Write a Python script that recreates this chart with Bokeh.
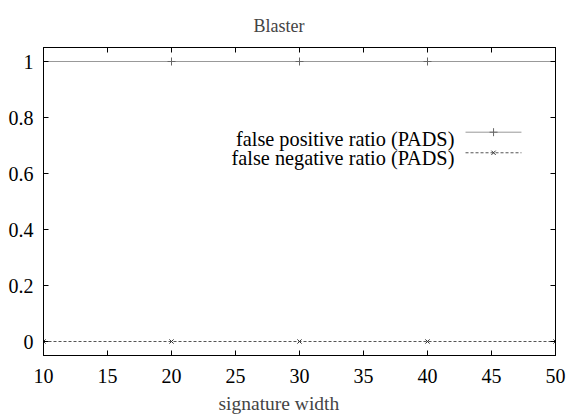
from bokeh.plotting import figure
from bokeh.models import (LinearAxis, Title, Label, Range1d, FixedTicker,
                          CustomJSTickFormatter)
from bokeh.embed import file_html
from bokeh.resources import INLINE

# signature widths tested and the ratios measured for each
widths = [10, 20, 30, 40, 50]
false_positive = [1, 1, 1, 1, 1]
false_negative = [0, 0, 0, 0, 0]

x_ticks = [10, 15, 20, 25, 30, 35, 40, 45, 50]
y_ticks = [0, 0.2, 0.4, 0.6, 0.8, 1]

series_names = ["false positive ratio (PADS)", "false negative ratio (PADS)"]

FONT = "Liberation Serif"
FS = "20px"

p = figure(width=566, height=419, output_backend="svg", toolbar_location=None,
           x_range=Range1d(10, 50), y_range=Range1d(-0.05, 1.05),
           min_border_left=43, min_border_right=11,
           min_border_top=47, min_border_bottom=64)
p.background_fill_color = "white"
p.border_fill_color = "white"
p.outline_line_color = "black"
p.outline_line_width = 1
p.xgrid.visible = False
p.ygrid.visible = False


def style_axis(ax, ticks):
    ax.ticker = FixedTicker(ticks=ticks)
    ax.major_tick_in = 5
    ax.major_tick_out = 0
    ax.major_tick_line_color = "black"
    ax.minor_tick_line_color = None
    ax.axis_line_color = "black"
    ax.major_label_text_font = FONT
    ax.major_label_text_font_size = FS
    ax.major_label_text_color = "black"


style_axis(p.xaxis[0], x_ticks)
p.xaxis[0].major_label_standoff = 13
style_axis(p.yaxis[0], y_ticks)
p.yaxis[0].major_label_standoff = 10
p.yaxis[0].major_label_overrides = {0: "0", 1: "1"}

# mirrored tick marks on the top and right edges, without labels
blank = CustomJSTickFormatter(code="return ''")
top_axis = LinearAxis(formatter=blank)
style_axis(top_axis, x_ticks)
top_axis.major_label_standoff = 0
p.add_layout(top_axis, "above")
right_axis = LinearAxis(formatter=blank)
style_axis(right_axis, y_ticks)
right_axis.major_label_standoff = 0
p.add_layout(right_axis, "right")

p.add_layout(Title(text="Blaster", text_font=FONT, text_font_size="18px",
                   text_font_style="normal", align="left", offset=210,
                   standoff=23), "above")
p.add_layout(Title(text="signature width", text_font=FONT, text_font_size="19.5px",
                   text_font_style="normal", align="left", offset=175), "below")

# data series
p.line(widths, false_positive, line_color="#999999", line_width=1)
p.scatter(widths, false_positive, marker="cross", size=8, line_color="#666666")
p.line(widths, false_negative, line_color="#555555", line_width=1, line_dash="3 2")
p.scatter(widths, false_negative, marker="x", size=6, line_color="#333333")

# key, drawn gnuplot-style: text on the left, sample on the right
key_text_x = 42.1
key_text_y = [0.725, 0.6536]
key_line_y = [0.7475, 0.674]
key_line_x = [42.97, 47.34]
key_mark_x = 45.16
for name, yk in zip(series_names, key_text_y):
    p.add_layout(Label(x=key_text_x, y=yk, text=name, text_align="right",
                       text_baseline="alphabetic", text_font=FONT,
                       text_font_size="20.3px", text_color="black"))
p.line(key_line_x, [key_line_y[0]] * 2, line_color="#999999", line_width=1)
p.scatter([key_mark_x], [key_line_y[0]], marker="cross", size=8, line_color="#666666")
p.line(key_line_x, [key_line_y[1]] * 2, line_color="#555555", line_width=1, line_dash="3 2")
p.scatter([key_mark_x], [key_line_y[1]], marker="x", size=6, line_color="#333333")

open("out.html", "w").write(file_html(p, INLINE))
